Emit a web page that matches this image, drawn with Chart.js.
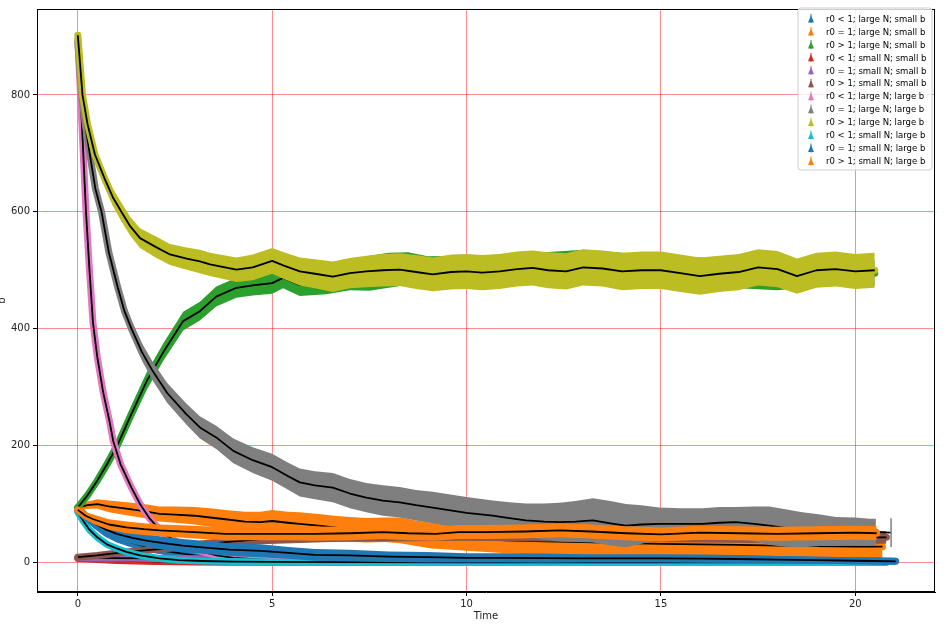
<!DOCTYPE html>
<html><head><meta charset="utf-8">
<script src="https://cdn.jsdelivr.net/npm/chart.js@4.4.0/dist/chart.umd.min.js"></script>
<style>html,body{margin:0;padding:0;background:#fff;}canvas{display:block;}</style>
</head><body>
<canvas id="c" width="952" height="626"></canvas>
<script>
// ---------- data ----------
const seriesLabels = [
  'r0 < 1; large N; small b','r0 = 1; large N; small b','r0 > 1; large N; small b',
  'r0 < 1; small N; small b','r0 = 1; small N; small b','r0 > 1; small N; small b',
  'r0 < 1; large N; large b','r0 = 1; large N; large b','r0 > 1; large N; large b',
  'r0 < 1; small N; large b','r0 = 1; small N; large b','r0 > 1; small N; large b'
];
const xTicks = [0,5,10,15,20];
const yTicks = [0,200,400,600,800];

// 1 blue
const t1 = [0,0.2,0.4,0.7,1,1.4,1.8,2.3,3,3.7,4.5,5.5,7,9,12,16,20.8];
const m1 = [94,80,68,54,44,34,26,19,12,8,5,3,1.5,1,0.5,0.3,0.2];
const e1 = [3,7,9,10,10,9,8,7,6,5,4,3,2.5,2,2,2,2];
// 2 orange
const t2 = [0,0.25,0.5,0.8,1.25,1.7,2.1,2.5,3,3.4,3.8,4.3,4.7,5,5.4,5.7,6.2,6.6,7,7.4,7.9,8.3,8.7,9.1,9.6,10,10.5,11,12,13,14,15,16,17,18,19,20,20.7];
const m2 = [94,98,100,96,92,88,83,82,80,77,74,70,69,71,68,66,63,60,57,55,56,55,50,46,44,42,40,38,36,35,33,32,31,30,29,28,27,27];
const e2 = [3,6,8,10,11,12,13,14,15,16,16,17,18,19,19,20,20,20,21,21,21,22,22,22,22,22,22,22,23,23,23,23,24,24,24,24,24,24];
// 3 green
const t3 = [0,0.25,0.5,0.75,1,1.35,1.77,2.2,2.71,3.14,3.56,4.08,4.5,5,5.28,5.71,6.39,7,7.5,8,8.5,9,10,11,12,13,14,15,16,17,18,19,20,20.5];
const m3 = [94,115,140,168,198,250,310,360,413,430,455,470,474,478,487,475,479,490,495,500,503,498,500,502,505,508,504,500,497,493,490,495,497,495];
const e3 = [4,8,10,12,13,14,15,15,16,16,17,17,17,18,18,19,20,24,30,30,28,26,25,25,26,27,26,25,25,24,24,23,22,22];
// 4 red
const t4 = [0,0.5,1,1.5,2,3,4,6,10,15,20.5];
const m4 = [7,5,3.5,2.5,1.8,1,0.5,0.2,0.1,0.1,0.1];
const e4 = [3,5,5,4.5,4,3,2.5,2,1.5,1,1];
// 5 purple
const t5 = [0,0.5,1,2,3,4,6,8,10,15,20.6];
const m5 = [8,8,7.5,7,6.5,6,5,4.5,4,3.5,3];
const e5 = [3,4,5,5,5,5,5,5,5,4.5,4];
// 6 brown
const t6 = [0,0.5,1.25,2.1,3,3.8,4.7,5.5,6.5,8,10,12,14,16,18,20,20.8];
const m6 = [9,12,18,23,29,35,40,43,45,47,48,47,46,45,44,43,43];
const e6 = [3,4,5,6,7,8,9,10,10,11,11,11,11,11,11,11,11];
// 7 pink
const t7 = [0,0.07,0.14,0.21,0.3,0.39,0.5,0.65,0.82,0.91,1.1,1.38,1.6,1.85,2.2,2.62,3,3.57,4,5,6,8,12,20.5];
const m7 = [895,800,700,600,500,410,352,292,240,208,168,128,100,75,50,32,22,12,8,4,2,1,0.5,0.3];
const e7 = [4,6,7,8,8,8,8,7,7,7,6,6,6,6,5,5,5,5,4,4,3,3,3,3];
// 8 gray
const t8 = [0,0.1,0.2,0.31,0.45,0.61,0.8,1.03,1.2,1.38,1.65,1.93,2.3,2.79,3.14,3.56,4,4.5,5,5.4,5.71,6.1,6.56,7,7.42,7.85,8.28,8.7,9.13,9.5,10,10.67,11.1,11.53,12,12.39,12.8,13.25,13.7,14.1,14.5,14.96,15.5,16.07,16.5,16.93,17.4,17.79,18.2,18.64,19.1,19.5,20,20.36,20.53];
const m8 = [890,800,745,698,640,600,530,470,430,400,360,327,290,254,231,214,191,175,163,148,137,132,128,118,111,106,103,98,94,90,85,80,76,72,70,69,70,72,67,63,65,66,66,66,68,69,66,63,59,56,55,53,53,52,52];
const e8 = [4,6,8,9,10,11,12,13,13,14,15,16,17,18,19,20,21,22,23,23,24,24,25,25,25,26,26,26,27,27,27,26,27,29,31,33,35,38,38,37,33,28,27,27,27,26,30,33,32,30,27,25,24,23,23];
const grayLastT = 20.92, grayLastMean = 51, grayLastErr = 24.5;
// 9 olive
const t9 = [0,0.12,0.25,0.44,0.7,0.9,1.12,1.35,1.6,2,2.37,2.8,3.14,3.4,4.08,4.5,5,5.3,5.71,6.1,6.56,7,7.42,7.85,8.28,8.7,9.13,9.6,10,10.4,10.85,11.3,11.7,12.1,12.56,13,13.5,14,14.5,15,15.5,16,16.5,17,17.5,18,18.5,19,19.5,20,20.5];
const m9 = [902,800,750,698,655,625,600,575,555,540,527,520,515,510,501,505,516,508,498,494,489,495,498,500,501,497,493,497,498,496,498,502,504,500,498,505,503,498,500,500,495,490,494,497,505,502,490,500,502,498,500];
const e9 = [6,10,12,13,14,15,16,16,17,18,18,19,20,20,21,22,22,23,24,25,26,26,27,28,28,29,29,30,30,30,30,30,30,31,31,31,31,32,32,32,32,32,31,31,31,31,30,30,30,30,30];
// 10 cyan
const t10 = [0,0.15,0.3,0.5,0.75,1,1.25,1.6,2.1,2.6,3.2,4,5,7,10,15,20.6];
const m10 = [86,70,56,43,31,24,18,12,7,4,2.5,1.5,1,0.5,0.3,0.2,0.2];
const e10 = [3,5,6,6,6,5,5,4.5,4,3.5,3,3,3,3,3,3,3];
// 11 blue
const t11 = [0,0.2,0.4,0.7,1,1.4,1.8,2.2,2.7,3.2,3.9,4.7,5.5,6.1,7,8,9,10,11,12,13,14,15,16,17,18,19,20,20.5,21.04];
const m11 = [90,78,68,57,49,42,37,33,29,26,22,20,16,13,12,10,9,8,8,7.5,7,7,7,6.5,6,5,4,3,2.5,2];
const e11 = [3,6,8,9,10,10,11,11,11,11,11,11,10,10,10,9,9,8,8,8,7,7,7,7,7,6,6,6,6,6];
// 12 orange
const t12 = [0,0.2,0.4,0.8,1.25,1.7,2.1,3,3.8,4.7,5.5,6.1,7,7.85,8.5,9.2,9.8,10.5,11.5,12.4,13.2,14.1,15,16,17,18,19,20,20.55];
const m12 = [90,80,74,65,60,57,55,52,49,49,49,49,50,52,50,49,52,52,53,55,53,50,48,51,50,49,50,51,50];
const e12 = [3,6,8,9,10,10,10,11,11,11,11,12,12,12,12,12,12,12,12,12,12,12,12,12,12,12,12,12,12];

// ---------- styling ----------
const colors = ['#1f77b4','#ff7f0e','#2ca02c','#d62728','#9467bd','#8c564b','#e377c2','#7f7f7f','#bcbd22','#17becf','#1f77b4','#ff7f0e'];
const T = [t1,t2,t3,t4,t5,t6,t7,t8,t9,t10,t11,t12];
const M = [m1,m2,m3,m4,m5,m6,m7,m8,m9,m10,m11,m12];
const E = [e1,e2,e3,e4,e5,e6,e7,e8,e9,e10,e11,e12];

const datasets = [];
for (let i = 0; i < 12; i++) {
  const base = 1000 - i * 5;
  datasets.push({
    data: T[i].map((x,k)=>({x, y: M[i][k]-E[i][k]})),
    borderWidth: 0, borderColor: 'rgba(0,0,0,0)', pointRadius: 0, fill: false, order: base - 1
  });
  datasets.push({
    data: T[i].map((x,k)=>({x, y: M[i][k]+E[i][k]})),
    borderWidth: 0, borderColor: 'rgba(0,0,0,0)', pointRadius: 0, fill: '-1',
    backgroundColor: colors[i], order: base
  });
  // coloured data line with markers (errorbar line) -> thick stroke
  datasets.push({
    data: T[i].map((x,k)=>({x, y: M[i][k]})),
    borderColor: colors[i], borderWidth: 7, borderJoinStyle: 'round', borderCapStyle: 'round',
    pointRadius: 0, fill: false, order: base - 2
  });
  const meanPts = T[i].map((x,k)=>({x, y: M[i][k]}));
  if (i === 7) meanPts.push({x: grayLastT, y: grayLastMean});
  datasets.push({
    data: meanPts, borderColor: '#000', borderWidth: 1.8, borderJoinStyle: 'round',
    pointRadius: 0, fill: false, order: base - 3
  });
  if (i === 7) {
    datasets.push({
      data: [{x: grayLastT, y: grayLastMean - grayLastErr}, {x: grayLastT, y: grayLastMean + grayLastErr}],
      borderColor: colors[i], borderWidth: 1.5, pointRadius: 0, fill: false, order: base - 4
    });
  }
}

const FONT = 'DejaVu Sans';

const framePlugin = {
  id: 'frame',
  afterDatasetsDraw(chart) {
    const {ctx, chartArea: a} = chart;
    ctx.save();
    ctx.strokeStyle = '#000';
    ctx.lineWidth = 1;
    ctx.strokeRect(Math.round(a.left) + 0.5, Math.round(a.top) + 0.5, Math.round(a.right - a.left) - 1, Math.round(a.bottom - a.top) - 1);
    ctx.restore();
  }
};

const legendPlugin = {
  id: 'mplLegend',
  afterDraw(chart) {
    const ctx = chart.ctx;
    const x0 = 798, y0 = 8, w = 134, h = 162, r = 3;
    ctx.save();
    ctx.beginPath();
    ctx.moveTo(x0 + r, y0);
    ctx.arcTo(x0 + w, y0, x0 + w, y0 + h, r);
    ctx.arcTo(x0 + w, y0 + h, x0, y0 + h, r);
    ctx.arcTo(x0, y0 + h, x0, y0, r);
    ctx.arcTo(x0, y0, x0 + w, y0, r);
    ctx.closePath();
    ctx.fillStyle = 'rgba(255,255,255,0.8)';
    ctx.fill();
    ctx.strokeStyle = '#cccccc';
    ctx.lineWidth = 1;
    ctx.stroke();
    ctx.font = '8.5px "' + FONT + '"';
    ctx.textBaseline = 'middle';
    ctx.textAlign = 'left';
    for (let i = 0; i < seriesLabels.length; i++) {
      const y = 19 + i * 12.95;
      const mx = 811;
      ctx.strokeStyle = colors[i];
      ctx.lineWidth = 1;
      ctx.beginPath();
      ctx.moveTo(mx, y - 5); ctx.lineTo(mx, y + 4);
      ctx.stroke();
      ctx.fillStyle = colors[i];
      ctx.beginPath();
      ctx.moveTo(mx, y - 3.5); ctx.lineTo(mx + 3, y + 3.5); ctx.lineTo(mx - 3, y + 3.5);
      ctx.closePath();
      ctx.fill();
      ctx.fillStyle = '#000';
      ctx.fillText(seriesLabels[i], 826, y + 0.5);
    }
    ctx.restore();
  }
};

new Chart(document.getElementById('c'), {
  type: 'line',
  data: { datasets },
  options: {
    responsive: false, animation: false, devicePixelRatio: 1,
    layout: { padding: { left: 0, top: 7, right: 17, bottom: 0 } },
    plugins: { legend: { display: false }, tooltip: { enabled: false } },
    elements: { point: { radius: 0 }, line: { tension: 0 } },
    scales: {
      x: {
        type: 'linear', min: -1.05, max: 22.05,
        afterBuildTicks: s => { s.ticks = xTicks.map(v => ({ value: v })); },
        afterFit: s => { s.height = 34; },
        grid: { color: 'rgba(255,0,0,0.45)', tickColor: '#000', tickLength: 4, lineWidth: 1 },
        border: { color: '#000', width: 1 },
        ticks: { font: { family: FONT, size: 10 }, color: '#222', padding: 2, maxRotation: 0 },
        title: { display: true, text: 'Time', font: { family: FONT, size: 10 }, color: '#222', padding: { top: 0, bottom: 4 } }
      },
      y: {
        type: 'linear', min: -50.5, max: 947,
        afterBuildTicks: s => { s.ticks = yTicks.map(v => ({ value: v })); },
        afterFit: s => { s.width = 37; },
        grid: { color: 'rgba(255,0,0,0.45)', tickColor: '#000', tickLength: 4, lineWidth: 1 },
        border: { color: '#000', width: 1 },
        ticks: { font: { family: FONT, size: 10 }, color: '#222', padding: 3 },
        title: { display: true, text: 'b', font: { family: FONT, size: 10 }, color: '#222', padding: { top: -4, bottom: 0 } }
      }
    }
  },
  plugins: [framePlugin, legendPlugin]
});
</script>
</body></html>
